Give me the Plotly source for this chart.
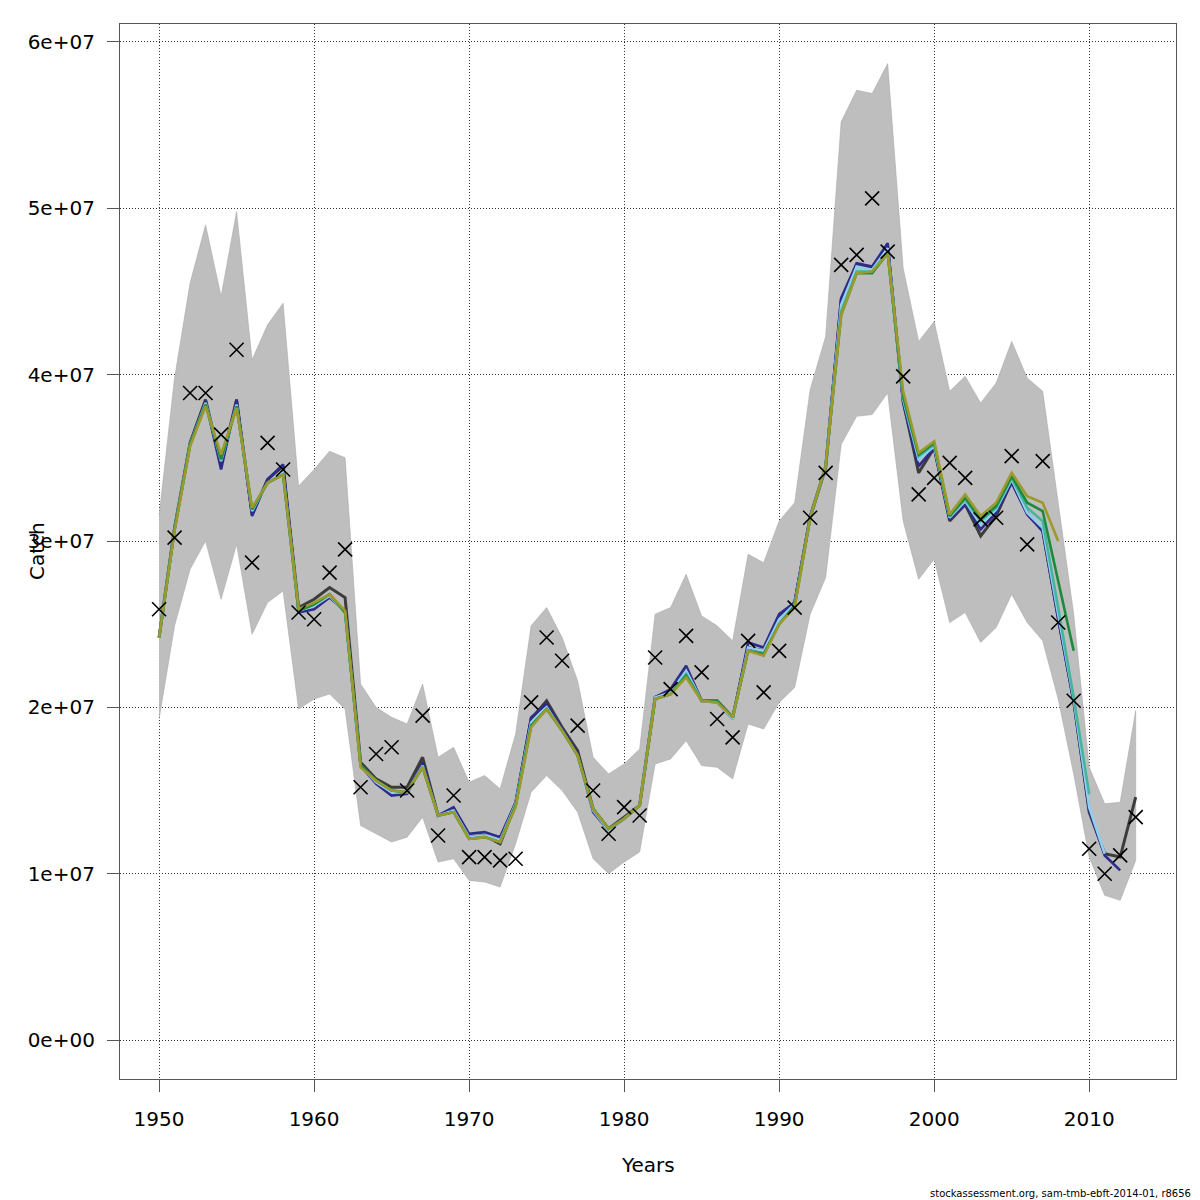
import plotly.graph_objects as go

years = list(range(1950, 2014))

# observed catch (millions)
obs = [25.9, 30.2, 38.9, 38.9, 36.4, 41.5, 28.7, 35.9, 34.3, 25.7,
       25.3, 28.1, 29.5, 15.2, 17.2, 17.6, 15.0, 19.5, 12.3, 14.7,
       11.0, 11.0, 10.8, 10.9, 20.3, 24.2, 22.8, 18.9, 15.0, 12.4,
       14.0, 13.5, 23.0, 21.1, 24.3, 22.1, 19.3, 18.2, 24.0, 20.9,
       23.4, 26.0, 31.4, 34.1, 46.6, 47.2, 50.6, 47.4, 39.9, 32.8,
       33.8, 34.7, 33.8, 31.3, 31.4, 35.1, 29.8, 34.8, 25.1, 20.4,
       11.5, 10.0, 11.1, 13.4]

# full run estimate and confidence band (millions)
fit = [24.2, 30.8, 35.9, 38.5, 34.6, 38.5, 31.6, 33.7, 34.5, 26.0,
       26.5, 27.2, 26.6, 16.7, 15.7, 15.2, 15.2, 17.0, 13.5, 13.8,
       12.2, 12.3, 11.8, 14.2, 19.3, 20.4, 18.8, 17.4, 13.9, 12.7,
       13.4, 14.1, 20.6, 21.0, 22.3, 20.4, 20.4, 19.4, 23.6, 23.4,
       25.4, 26.3, 31.4, 34.4, 44.5, 46.6, 46.4, 47.7, 38.4, 34.1,
       35.6, 31.2, 32.2, 30.3, 31.5, 33.6, 31.7, 30.6, 25.4, 20.4,
       13.7, 11.2, 11.0, 14.6]
upper = [31.5, 39.8, 45.5, 49.0, 44.7, 49.8, 40.9, 43.0, 44.3, 33.3,
         34.3, 35.4, 35.0, 21.4, 20.0, 19.4, 19.0, 21.4, 17.0, 17.6,
         15.5, 15.9, 15.1, 18.4, 24.9, 26.0, 24.2, 21.6, 17.0, 16.0,
         16.6, 17.5, 25.6, 26.0, 28.0, 25.5, 24.9, 24.0, 29.2, 28.7,
         31.2, 32.3, 39.1, 42.3, 55.2, 57.1, 56.9, 58.7, 46.4, 42.0,
         43.2, 39.0, 39.9, 38.3, 39.5, 42.0, 39.8, 39.0, 32.3, 25.6,
         16.4, 14.2, 14.3, 19.8]
lower = [19.3, 24.9, 28.3, 30.0, 26.5, 29.8, 24.4, 26.3, 27.0, 19.9,
         20.5, 20.8, 19.9, 12.9, 12.4, 11.9, 12.2, 13.4, 10.7, 10.9,
         9.6, 9.5, 9.2, 11.8, 14.9, 15.9, 15.0, 13.7, 10.9, 10.0,
         10.7, 11.3, 16.6, 16.9, 18.0, 16.5, 16.4, 15.7, 19.0, 18.7,
         20.3, 21.2, 25.6, 27.8, 35.8, 37.5, 37.6, 38.9, 31.2, 27.7,
         28.9, 25.1, 25.7, 23.9, 24.8, 26.8, 25.1, 24.0, 20.5, 16.0,
         11.0, 8.7, 8.4, 10.8]

# retrospective peels (millions), each one year shorter
peel1 = [24.2, 30.7, 35.8, 38.4, 34.3, 38.5, 31.5, 33.7, 34.6, 25.7,
         25.9, 26.6, 25.8, 16.5, 15.4, 14.7, 14.8, 16.7, 13.5, 14.0,
         12.4, 12.5, 12.2, 14.3, 19.4, 20.2, 18.7, 17.2, 13.7, 12.6,
         13.3, 14.1, 20.6, 21.1, 22.5, 20.4, 20.3, 19.3, 23.9, 23.6,
         25.6, 26.3, 31.5, 34.5, 44.6, 46.7, 46.5, 47.9, 38.3, 34.5,
         35.6, 31.3, 32.2, 30.7, 31.7, 33.5, 31.6, 30.6, 25.3, 20.3,
         13.8, 11.1, 10.2]
peel2 = [24.2, 30.7, 35.8, 38.3, 34.8, 38.2, 31.8, 33.5, 34.1, 25.8,
         26.1, 26.7, 25.7, 16.5, 15.5, 14.9, 14.9, 16.5, 13.5, 13.8,
         12.2, 12.3, 12.0, 14.2, 19.1, 20.0, 18.6, 17.1, 13.8, 12.6,
         13.3, 14.1, 20.6, 20.9, 22.2, 20.4, 20.3, 19.3, 23.6, 23.4,
         25.3, 26.2, 31.4, 34.5, 44.2, 46.5, 46.3, 47.6, 38.5, 34.9,
         35.7, 31.4, 32.4, 31.0, 31.9, 33.7, 31.7, 30.8, 25.6, 20.5,
         14.0, 11.2]
peel3 = [24.2, 30.7, 35.8, 38.2, 34.9, 38.1, 31.9, 33.5, 34.0, 25.8,
         26.2, 26.8, 25.7, 16.5, 15.6, 15.0, 14.9, 16.4, 13.5, 13.7,
         12.1, 12.2, 11.9, 14.1, 18.9, 19.9, 18.6, 17.1, 13.9, 12.7,
         13.3, 14.1, 20.5, 20.8, 22.0, 20.4, 20.4, 19.4, 23.4, 23.2,
         25.0, 26.1, 31.4, 34.5, 43.8, 46.2, 46.2, 47.4, 38.6, 35.1,
         35.8, 31.5, 32.5, 31.2, 32.0, 33.8, 32.0, 31.2, 26.0, 20.6,
         14.8]
peel4 = [24.2, 30.7, 35.8, 38.2, 34.9, 38.1, 31.9, 33.5, 34.0, 25.8,
         26.2, 26.8, 25.7, 16.5, 15.6, 15.0, 14.9, 16.4, 13.5, 13.7,
         12.1, 12.2, 11.9, 14.1, 18.9, 19.9, 18.6, 17.1, 13.9, 12.7,
         13.3, 14.1, 20.5, 20.8, 21.9, 20.4, 20.4, 19.4, 23.4, 23.2,
         25.0, 26.1, 31.4, 34.5, 43.6, 46.1, 46.1, 47.3, 38.7, 35.2,
         35.9, 31.5, 32.6, 31.3, 32.1, 33.9, 32.3, 31.8, 27.6, 23.4]
peel5 = [24.2, 30.6, 35.7, 38.1, 35.2, 38.0, 32.0, 33.5, 34.0, 25.9,
         26.3, 26.8, 25.8, 16.4, 15.6, 15.0, 14.9, 16.4, 13.5, 13.7,
         12.1, 12.2, 11.9, 14.0, 18.8, 19.9, 18.6, 17.1, 13.9, 12.7,
         13.3, 14.1, 20.5, 20.8, 21.8, 20.4, 20.3, 19.4, 23.4, 23.1,
         25.0, 26.0, 31.4, 34.5, 43.6, 46.1, 46.2, 47.3, 39.0, 35.3,
         36.0, 31.6, 32.8, 31.5, 32.3, 34.1, 32.7, 32.3, 30.0]

peels = [peel1, peel2, peel3, peel4, peel5]
peel_colors = ["#2e2a8e", "#8fd0ee", "#45b59c", "#1c8a3c", "#9c9a2c"]

yticks = [0, 1e7, 2e7, 3e7, 4e7, 5e7, 6e7]
ytext = ["0e+00", "1e+07", "2e+07", "3e+07", "4e+07", "5e+07", "6e+07"]
xticks = [1950, 1960, 1970, 1980, 1990, 2000, 2010]

M = 1e6
fig = go.Figure()

fig.add_trace(go.Scatter(
    x=years + years[::-1],
    y=[v * M for v in upper] + [v * M for v in lower[::-1]],
    fill="toself", fillcolor="#bebebe",
    line=dict(color="#a9a9a9", width=0.6),
    mode="lines", hoverinfo="skip", showlegend=False))

fig.add_trace(go.Scatter(
    x=years, y=[v * M for v in fit], mode="lines",
    line=dict(color="#3c3c3c", width=3), showlegend=False))

for p, c in zip(peels, peel_colors):
    fig.add_trace(go.Scatter(
        x=years[:len(p)], y=[v * M for v in p], mode="lines",
        line=dict(color=c, width=2.6), showlegend=False))

fig.add_trace(go.Scatter(
    x=years, y=[v * M for v in obs], mode="markers",
    marker=dict(symbol="x-thin", size=14, line=dict(color="black", width=1.6)),
    showlegend=False))

axis_font = dict(family="DejaVu Sans", size=20, color="black")

# the page puts the figure 8px in from the top-left corner
OFF = 8
pl, pr, pt, pb = 120 - OFF, 1176 - OFF, 24 - OFF, 1079 - OFF

fig.update_layout(
    width=1200, height=1200,
    margin=dict(l=pl, r=1200 - pr, t=pt, b=1200 - pb),
    paper_bgcolor="white", plot_bgcolor="white",
    font=axis_font,
    xaxis=dict(range=[1947.48, 2015.6], tickvals=xticks,
               showgrid=True, gridcolor="#333333", griddash="1px,2px", gridwidth=1,
               zeroline=False, showline=True, linecolor="#555555", linewidth=1.2,
               mirror=True, ticks="outside", ticklen=12, tickcolor="#555555",
               ticklabelstandoff=10, tickfont=axis_font),
    yaxis=dict(range=[-2.34e6, 61.08e6], tickvals=yticks, ticktext=ytext,
               showgrid=True, gridcolor="#333333", griddash="1px,2px", gridwidth=1,
               zeroline=False, showline=True, linecolor="#555555", linewidth=1.2,
               mirror=True, ticks="outside", ticklen=12, tickcolor="#555555",
               ticklabelstandoff=8, tickfont=axis_font),
)

def to_paper(px, py):
    return (px - OFF - pl) / (pr - pl), (pb - (py - OFF)) / (pb - pt)

for text, px, py, ang, fnt, xa in [
        ("Years", 648, 1165, 0, axis_font, "center"),
        ("Catch", 37, 551, -90, axis_font, "center"),
        ("stockassessment.org, sam-tmb-ebft-2014-01, r8656", 1193, 1193, 0,
         dict(family="DejaVu Sans", size=10, color="black"), "right")]:
    x, y = to_paper(px, py)
    fig.add_annotation(text=text, x=x, y=y, xref="paper", yref="paper",
                       showarrow=False, textangle=ang, font=fnt,
                       xanchor=xa, yanchor="middle")

fig.write_html("out.html")
